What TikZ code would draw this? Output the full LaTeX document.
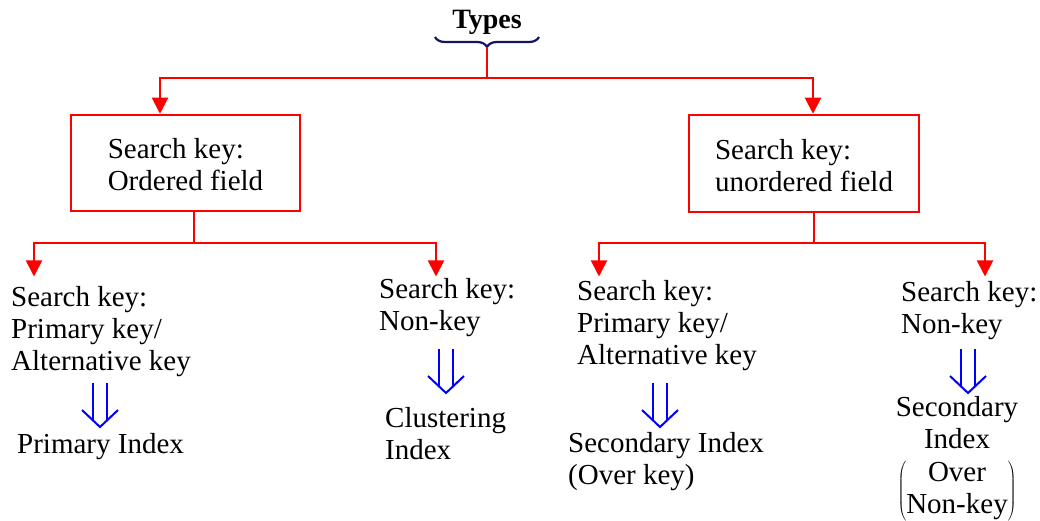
\documentclass[tikz,border=0pt]{standalone}
\usepackage{fix-cm}
\usepackage{fontspec}
\setmainfont{Liberation Serif}
\usetikzlibrary{arrows.meta,decorations.pathreplacing,calc}
\newcommand\myfs{\fontsize{29}{32}\selectfont}
\definecolor{bracecol}{RGB}{20,20,100}
\begin{document}
\begin{tikzpicture}[x=1pt,y=-1pt,
  rl/.style={draw=red, line width=2pt},
  ra/.style={rl, -{Triangle[length=16pt,width=16pt]}},
  boxn/.style={draw=red, line width=2.5pt, align=left, font=\myfs, inner sep=0pt},
  txt/.style={align=left, font=\myfs, inner sep=0pt, anchor=base west},
  dbl/.pic={
    \draw[blue, line width=2pt] (-7,-44) -- (-7,-7) (7,-44) -- (7,-7);
    \draw[blue, line width=2pt, line join=miter] (-18,-17) -- (0,0) -- (18,-17);
  }]
\useasboundingbox (0,0) rectangle (1040,521);

% title and brace
\node[font=\fontsize{28}{32}\selectfont\bfseries, anchor=base, inner sep=0pt] (types) at (487,29) {Types};
\draw[bracecol, line width=2.2pt, decorate, decoration={brace, mirror, amplitude=10pt}] (435,37) -- (539,37);
\coordinate (bt) at (487,47);

% boxes
\node[boxn, minimum width=229pt, minimum height=96pt] (lbox) at (185.5,163) {\rule{0pt}{24pt}Search key:\\Ordered field};
\node[boxn, minimum width=230pt, minimum height=97pt] (rbox) at (804,163.5) {\rule{0pt}{24pt}Search key:\\unordered field};

% leaves (anchor is the baseline of the last line)
\node[txt] (l1) at (11,370) {Search key:\\Primary key/\\Alternative key};
\node[txt] (l2) at (379,330) {Search key:\\Non-key};
\node[txt] (l3) at (577,364) {Search key:\\Primary key/\\Alternative key};
\node[txt] (l4) at (901,333) {Search key:\\Non-key};

% results
\node[txt] (r1) at (17,453) {Primary Index};
\node[txt] (r2) at (385,459) {Clustering\\Index};
\node[txt] (r3) at (568,484) {Secondary Index\\(Over key)};
\node[font=\myfs, align=center, inner sep=0pt, anchor=base] (r4) at (957,448) {Secondary\\Index};
\node[font=\myfs, inner sep=0pt] (r4b) at (957,491) {$\left(\begin{array}{@{}c@{}}\mbox{Over}\\\mbox{Non-key}\end{array}\right)$};

% red connectors
\coordinate (j0) at (487,78);
\draw[rl] (bt) -- (j0);
\draw[ra] (j0) -| ([xshift=-25.5pt]lbox.north);
\draw[ra] (j0) -| ([xshift=9pt]rbox.north);

\coordinate (j1) at (194,243);
\draw[rl] (lbox.south -| j1) -- (j1);
\draw[ra] (j1) -| ([xshift=23pt,yshift=9.2pt]l1.north west);
\draw[ra] (j1) -| ([xshift=57pt,yshift=1.2pt]l2.north west);

\coordinate (j2) at (814,243);
\draw[rl] (rbox.south -| j2) -- (j2);
\draw[ra] (j2) -| ([xshift=22pt,yshift=3.2pt]l3.north west);
\draw[ra] (j2) -| ([xshift=84pt,yshift=4.2pt]l4.north west);

% blue double arrows
\pic at (100,427) {dbl};
\pic at (446,393) {dbl};
\pic at (660,427) {dbl};
\pic at (968,393) {dbl};
\end{tikzpicture}
\end{document}
